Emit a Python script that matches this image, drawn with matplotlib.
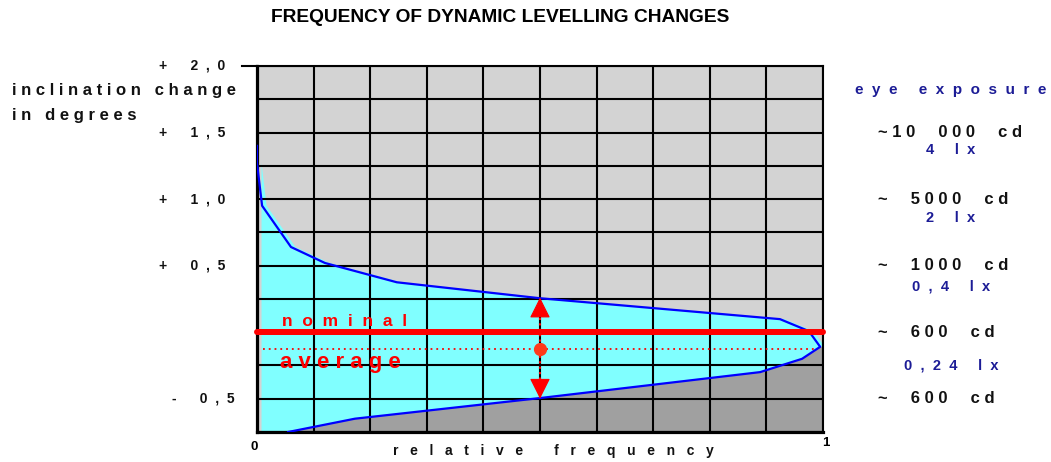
import matplotlib
matplotlib.use('Agg')
import numpy as np
import matplotlib.pyplot as plt
from matplotlib.transforms import blended_transform_factory

plt.rcParams['font.family'] = ['Liberation Sans', 'DejaVu Sans']
plt.rcParams['font.weight'] = 'bold'

# data
freq = [0.0, 0.0, 0.009, 0.06, 0.12, 0.247, 0.5, 0.924, 0.975, 0.995, 0.963, 0.889, 0.5, 0.173, 0.055]
incl = [1.40, 1.27, 0.95, 0.64, 0.52, 0.375, 0.255, 0.098, 0.008, -0.11, -0.20, -0.30, -0.495, -0.65, -0.75]
nominal = 0.0
average = -0.125
spread_top = 0.26
spread_bottom = -0.50
ytick_vals = [2.0, 1.5, 1.0, 0.5, -0.5]
cd_vals = [1.5, 1.0, 0.5, 0.0, -0.5]
cd_labels = ["~10 000 cd", "~ 5000 cd", "~ 1000 cd", "~ 600 cd", "~ 600 cd"]
lx_vals = [1.37, 0.86, 0.345, -0.25]
lx_labels = ["4 lx", "2 lx", "0,4 lx", "0,24 lx"]

NAVY = '#1c1c96'
INK = '#111111'


def spread(text, gap=1, word_gap=3):
    words = text.split(' ')
    return (' ' * word_gap).join((' ' * gap).join(w) for w in words)


def px(x, y):
    return x / 1051, 1 - y / 462


fig = plt.figure(figsize=(10.51, 4.62), dpi=100)
ax = fig.add_axes([257 / 1051, 30 / 462, 566 / 1051, 366 / 462])
ax.set_xlim(0, 1)
ax.set_ylim(-0.75, 2.0)
ax.set_facecolor('#d3d3d3')

# grid
ax.set_xticks(np.arange(0, 1.01, 0.1))
ax.set_yticks(np.arange(-0.75, 2.01, 0.25))
ax.tick_params(length=0, labelleft=False, labelbottom=False)
ax.grid(True, color='black', lw=1.5)
for s in ['top', 'right']:
    ax.spines[s].set_linewidth(1.5)
for s in ['left', 'bottom']:
    ax.spines[s].set_linewidth(2.3)
ax.plot([-0.027, 0], [2.0, 2.0], color='black', lw=1.5, clip_on=False)

f = np.array(freq)
v = np.array(incl)
# cyan body (slightly offset like a shadow)
dx = 0.008
ax.fill(np.r_[f + dx, dx, dx], np.r_[v, -0.75, v[0]], color='#80ffff', lw=0, zorder=1)
# dark grey below the lower branch
ax.fill(np.r_[f[9:], 1, 1], np.r_[v[9:], -0.75, v[9]], color='#a0a0a0', lw=0, zorder=1.2)
ax.plot(f, v, color='#0000ff', lw=1.6, zorder=4)

# nominal and average
ax.plot([0, 1], [nominal, nominal], color='red', lw=4.3, solid_capstyle='round', zorder=5, clip_on=False)
ax.plot([0.01, 0.99], [average, average], color='red', lw=1.3, dashes=(1, 2.2), zorder=5)
ax.plot([0.5, 0.5], [spread_bottom + 0.1, spread_top - 0.1], color='red', lw=1.5, dashes=(1, 1.6), zorder=5)
for yend, back in [(spread_top, -0.13), (spread_bottom, 0.13)]:
    ax.annotate('', xy=(0.5, yend), xytext=(0.5, yend + back),
                arrowprops=dict(arrowstyle='-|>,head_length=1.3,head_width=0.65', color='red',
                                lw=0.8, shrinkA=0, shrinkB=0), zorder=6)
ax.plot([0.5], [average], 'o', color='#ff3a1a', ms=8.5, zorder=7)

ax.text(0.044, 0.045, spread('nominal', 2), color='red', fontsize=12.5, va='baseline', zorder=8)
ax.text(0.04, -0.27, spread('average', 1), color='red', fontsize=16, va='baseline', zorder=8)

# title and axis texts
fig.text(*px(500, 18), 'FREQUENCY OF DYNAMIC LEVELLING CHANGES', fontsize=13.8, ha='center', va='center')

fig.text(*px(12, 91), spread('inclination change', 1, 3), fontsize=12, va='center', color=INK)
fig.text(*px(12, 116), spread('in degrees', 1, 3), fontsize=12, va='center', color=INK)

tr = blended_transform_factory(fig.transFigure, ax.transData)
for val in ytick_vals:
    sign = '+' if val > 0 else '-'
    num = f"{abs(val):.1f}".replace('.', ',')
    x0 = 159 if val > 0 else 172
    fig.text(x0 / 1051, val, sign + ' ' * 6 + spread(num, 2), transform=tr,
             fontsize=10, va='center', color=INK)

fig.text(*px(254, 447), '0', fontsize=9.5, ha='center', va='center')
fig.text(*px(826, 443), '1', fontsize=9.5, ha='center', va='center')
fig.text(*px(393, 451), spread('relative frequency', 3, 8), fontsize=10, va='center', color=INK)

fig.text(*px(855, 90), spread('eye exposure', 2, 5), fontsize=11, va='center', color=NAVY)
for val, lab in zip(cd_vals, cd_labels):
    fig.text(878 / 1051, val, spread(lab, 1, 5), transform=tr, fontsize=12, va='center', color=INK)
for val, lab in zip(lx_vals, lx_labels):
    fig.text(951 / 1051, val, spread(lab, 2, 5), transform=tr, fontsize=10.5, ha='center',
             va='center', color=NAVY)

fig.savefig('out.png', dpi=100)
